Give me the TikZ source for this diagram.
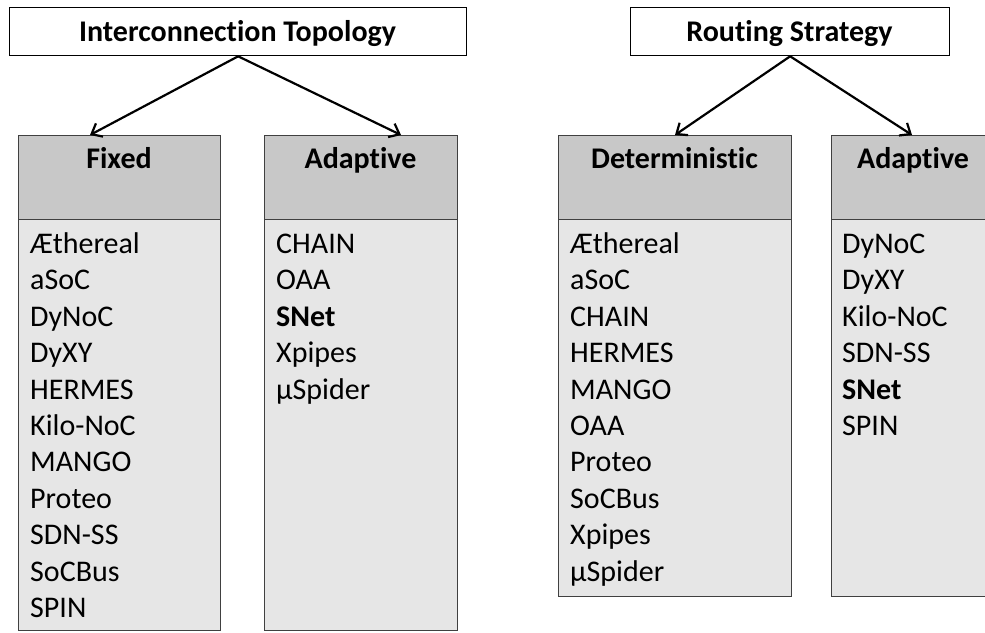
\documentclass[tikz,border=0pt]{standalone}
\usepackage{fontspec}
\setmainfont{Carlito}[RawFeature={-liga}]
\usetikzlibrary{arrows.meta}
\definecolor{hdr}{RGB}{200,200,200}
\definecolor{lst}{RGB}{230,230,230}
\definecolor{edgec}{RGB}{64,64,64}
\begin{document}
\begin{tikzpicture}[x=1pt,y=-1pt,
  topbox/.style={draw=black, line width=1.3pt, fill=white, inner sep=0, anchor=north west},
  hdrbox/.style={draw=edgec, line width=1.3pt, fill=hdr, inner sep=0, anchor=north west},
  lstbox/.style={draw=edgec, line width=1.3pt, fill=lst, inner sep=0, anchor=north west},
  hdrtxt/.style={font=\fontsize{30}{36}\selectfont\bfseries, anchor=base, inner sep=0},
  item/.style={font=\fontsize{30}{36}\selectfont, anchor=base west, inner sep=0},
  arr/.style={-{Straight Barb[length=9pt,width=15pt,line width=2.2pt]}, line width=2.2pt}]
\clip (0,0) rectangle (985,632);
\fill[white] (0,0) rectangle (985,632);
% top boxes
\node[topbox, minimum width=457pt, minimum height=48pt] (itop) at (9,7) {};
\node[hdrtxt] (itoptxt) at (237.5,41) {Interconnection Topology};
\node[topbox, minimum width=319pt, minimum height=48pt] (rtop) at (630,7) {};
\node[hdrtxt] (rtoptxt) at (789.5,41) {Routing Strategy};
% columns: list parts
\node[lstbox, minimum width=202pt, minimum height=411pt] (fixl) at (18,219) {};
\node[lstbox, minimum width=193pt, minimum height=411pt] (adal) at (264,219) {};
\node[lstbox, minimum width=233pt, minimum height=377pt] (detl) at (558,219) {};
\node[lstbox, minimum width=170pt, minimum height=377pt] (ad2l) at (831,219) {};
% headers
\node[hdrbox, minimum width=202pt, minimum height=84pt] (fixh) at (18,135) {};
\node[hdrbox, minimum width=193pt, minimum height=84pt] (adah) at (264,135) {};
\node[hdrbox, minimum width=233pt, minimum height=84pt] (deth) at (558,135) {};
\node[hdrbox, minimum width=170pt, minimum height=84pt] (ad2h) at (831,135) {};
\node[hdrtxt] (fixt) at (119,168) {Fixed};
\node[hdrtxt] (adat) at (360.5,168) {Adaptive};
\node[hdrtxt] (dett) at (674.5,168) {Deterministic};
\node[hdrtxt] (ad2t) at (913,168) {Adaptive};
% items
\foreach \t [count=\i] in {Æthereal,aSoC,DyNoC,DyXY,HERMES,Kilo-NoC,MANGO,Proteo,SDN-SS,SoCBus,SPIN}
  \node[item] (fi\i) at (30,253.5+36.4*\i-36.4) {\t};
\foreach \t [count=\i] in {CHAIN,OAA,{\textbf{SNet}},Xpipes,µSpider}
  \node[item] (ai\i) at (276,253.5+36.4*\i-36.4) {\t};
\foreach \t [count=\i] in {Æthereal,aSoC,CHAIN,HERMES,MANGO,OAA,Proteo,SoCBus,Xpipes,µSpider}
  \node[item] (di\i) at (570,253.5+36.4*\i-36.4) {\t};
\foreach \t [count=\i] in {DyNoC,DyXY,Kilo-NoC,SDN-SS,{\textbf{SNet}},SPIN}
  \node[item] (bi\i) at (842,253.5+36.4*\i-36.4) {\t};
% arrows
\coordinate (fa) at (90,135);
\coordinate (aa) at (401,135);
\coordinate (da) at (675,135);
\coordinate (ba) at (912,135);
\draw[arr] (itop.south) -- (fa);
\draw[arr] (itop.south) -- (aa);
\draw[arr] (rtop.south) -- (da);
\draw[arr] (rtop.south) -- (ba);
\end{tikzpicture}
\end{document}
